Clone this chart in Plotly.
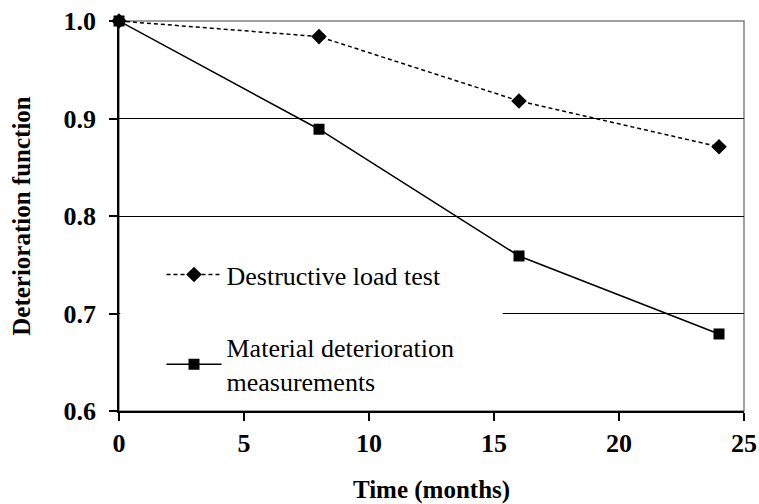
import plotly.graph_objects as go

months = [0, 8, 16, 24]
destructive = [1.0, 0.984, 0.918, 0.871]
material = [1.0, 0.889, 0.759, 0.679]
x_ticks = [0, 5, 10, 15, 20, 25]
y_ticks = [0.6, 0.7, 0.8, 0.9, 1.0]

FONT = "Liberation Serif, Times New Roman, serif"

fig = go.Figure()
fig.add_trace(go.Scatter(
    x=months, y=destructive, mode="lines+markers",
    name="Destructive load test", legendgroup="a", cliponaxis=False,
    line=dict(color="black", width=1.5, dash="4px,3px"),
    marker=dict(symbol="diamond", size=12, color="black"),
))
fig.add_trace(go.Scatter(
    x=months, y=material, mode="lines+markers",
    name="Material deterioration<br>measurements", legendgroup="b", cliponaxis=False,
    line=dict(color="black", width=1.5),
    marker=dict(symbol="square", size=11, color="black"),
))

# white panel behind legend hiding part of the grid
fig.add_shape(type="rect", xref="x", yref="y", x0=0.05, x1=15.35, y0=0.62, y1=0.76,
              fillcolor="white", line=dict(width=0), layer="between")
# gray frame (top/right)
fig.add_shape(type="rect", xref="paper", yref="paper", x0=0, x1=1, y0=0, y1=1,
              line=dict(color="#808080", width=1.5), fillcolor="rgba(0,0,0,0)", layer="between")

fig.update_layout(
    width=759, height=504,
    margin=dict(l=119, r=15, t=21, b=93),
    plot_bgcolor="white", paper_bgcolor="white",
    font=dict(family=FONT, color="black"),
    showlegend=True,
    legend=dict(
        x=0.068, y=0.41, xanchor="left", yanchor="top",
        bgcolor="rgba(0,0,0,0)", borderwidth=0,
        font=dict(family=FONT, size=26, color="black"),
        itemwidth=55, tracegroupgap=36,
    ),
    xaxis=dict(
        range=[0, 25], tickvals=x_ticks, ticktext=[str(v) for v in x_ticks],
        showgrid=False, zeroline=False, automargin=False,
        showline=True, linecolor="black", linewidth=1.5,
        ticks="outside", ticklen=8, tickcolor="black", tickwidth=1.5,
        tickfont=dict(family=FONT, size=26, color="black", weight="bold"),
        title=dict(text="Time (months)", standoff=25,
                   font=dict(family=FONT, size=25, color="black", weight="bold")),
    ),
    yaxis=dict(
        range=[0.6, 1.0], tickvals=y_ticks, ticktext=[f"{v:.1f}" for v in y_ticks],
        showgrid=True, gridcolor="black", gridwidth=1.2, zeroline=False, automargin=False,
        showline=True, linecolor="black", linewidth=1.5,
        ticks="outside", ticklen=8, tickcolor="black", tickwidth=1.5, ticklabelstandoff=8,
        tickfont=dict(family=FONT, size=26, color="black", weight="bold"),
        title=dict(text="Deterioration function", standoff=26,
                   font=dict(family=FONT, size=25, color="black", weight="bold")),
    ),
)

fig.write_html("out.html", config={"displayModeBar": False},
               post_script="document.body.style.margin='0';")
